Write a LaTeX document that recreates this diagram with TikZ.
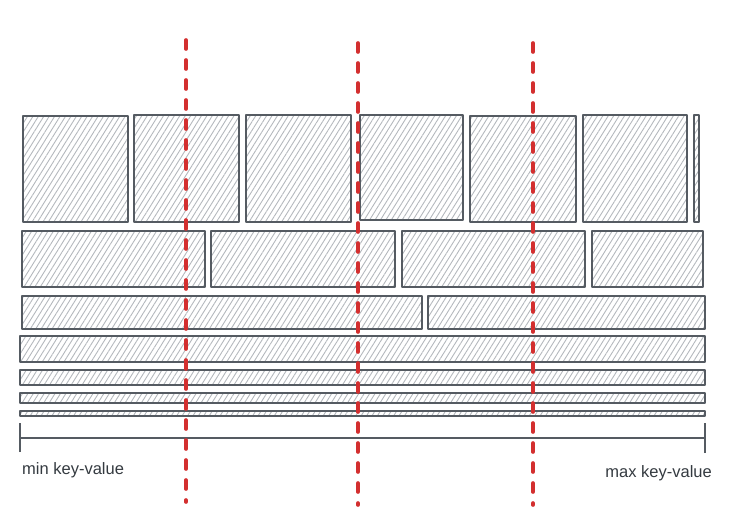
\documentclass[tikz,border=0pt]{standalone}
\usepackage{fontspec}
\setmainfont{Liberation Sans}
\usepackage{xcolor}
\definecolor{Ink}{HTML}{555B62}
\definecolor{Hatch}{HTML}{B4B8BD}
\definecolor{CutRed}{HTML}{D32F2F}
\definecolor{TextInk}{HTML}{343A40}
\usetikzlibrary{patterns.meta}

\begin{document}
\begin{tikzpicture}[x=1pt, y=-1pt,
  blk/.style={draw=Ink, line width=1.4pt, line join=round,
              pattern={Lines[angle=58, distance=4.6pt, line width=0.9pt]}, pattern color=Hatch},
  cut/.style={draw=CutRed, line width=3.6pt, line cap=round, dash pattern=on 9pt off 11pt},
  axis/.style={draw=Ink, line width=1.1pt},
  lbl/.style={font=\fontsize{16.5}{19}\selectfont, text=TextInk, inner sep=0pt}
]
\useasboundingbox (0,0) rectangle (731,525);

%% ---- Row 1: square blocks ----
\draw[blk] (23,116)  rectangle (128,222);
\draw[blk] (134,115) rectangle (239,222);
\draw[blk] (246,115) rectangle (351,222);
\draw[blk] (360,115) rectangle (463,220);
\draw[blk] (470,116) rectangle (576,222);
\draw[blk] (583,115) rectangle (687,222);
\draw[blk] (694,115) rectangle (699,222);

%% ---- Row 2 ----
\draw[blk] (22,231)  rectangle (205,287);
\draw[blk] (211,231) rectangle (395,287);
\draw[blk] (402,231) rectangle (585,287);
\draw[blk] (592,231) rectangle (703,287);

%% ---- Row 3 ----
\draw[blk] (22,296)  rectangle (422,329);
\draw[blk] (428,296) rectangle (705,329);

%% ---- Rows 4-7: full width, getting thinner ----
\draw[blk] (20,336) rectangle (705,362);
\draw[blk] (20,370) rectangle (705,385);
\draw[blk] (20,393) rectangle (705,403);
\draw[blk] (20,411) rectangle (705,416);

%% ---- Key range axis ----
\coordinate (axL) at (20,438);
\coordinate (axR) at (705,438);
\draw[axis] (axL) -- (axR);
\draw[axis] ([yshift=-14pt]axL) -- ([yshift=15pt]axL);
\draw[axis] ([yshift=-15pt]axR) -- ([yshift=15pt]axR);

\node[lbl, anchor=west] (minkey) at (22,470) {min key-value};
\node[lbl, anchor=east] (maxkey) at (712,473) {max key-value};

%% ---- Split lines ----
\coordinate (cutAtop) at (186,40);  \coordinate (cutAbot) at (186,502);
\coordinate (cutBtop) at (358,43);  \coordinate (cutBbot) at (358,505);
\coordinate (cutCtop) at (533,43);  \coordinate (cutCbot) at (533,505);
\draw[cut] (cutAtop) -- (cutAbot);
\draw[cut] (cutBtop) -- (cutBbot);
\draw[cut] (cutCtop) -- (cutCbot);

\end{tikzpicture}
\end{document}
